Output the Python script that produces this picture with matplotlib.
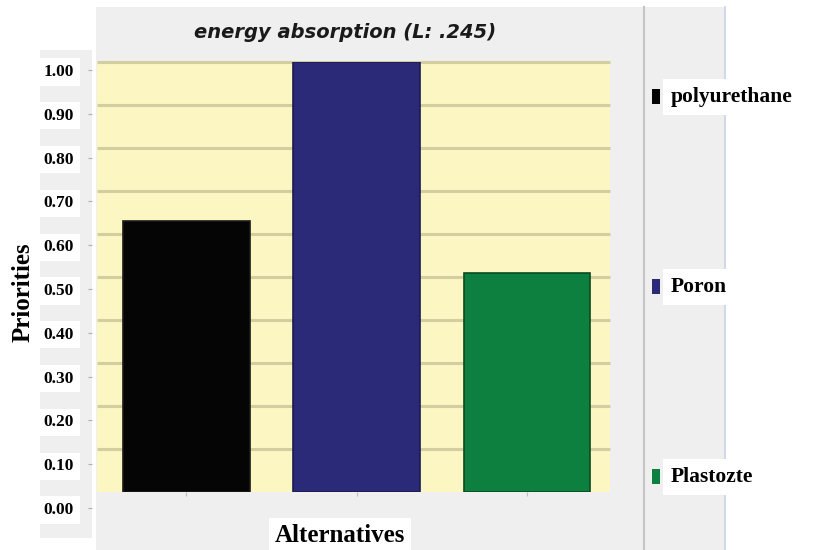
import matplotlib
matplotlib.use('Agg')
import matplotlib.pyplot as plt
from matplotlib.patches import Rectangle

# data
alternatives = ['polyurethane', 'Poron', 'Plastozte']
priorities = [0.63, 1.00, 0.51]
bar_colors = ['#050505', '#2b2a78', '#0d8040']
edge_colors = ['#1a1a1a', '#1c1b55', '#0a4a22']
ytick_vals = [0.0, 0.1, 0.2, 0.3, 0.4, 0.5, 0.6, 0.7, 0.8, 0.9, 1.0]
title = 'energy absorption (L: .245)'

W, H = 816, 550


def fx(px):
    return px / W


def fy(py):
    return 1 - py / H


fig = plt.figure(figsize=(W / 100, H / 100), dpi=100)
fig.patch.set_facecolor('white')

# grey panels of the original screenshot
fig.patches.append(Rectangle((fx(96), 0), fx(643) - fx(96), fy(7), transform=fig.transFigure,
                             facecolor='#efefef', edgecolor='none', zorder=-2))
fig.patches.append(Rectangle((fx(40), fy(538)), fx(92) - fx(40), fy(50) - fy(538), transform=fig.transFigure,
                             facecolor='#efefef', edgecolor='none', zorder=-2))
fig.patches.append(Rectangle((fx(645), 0), fx(725) - fx(645), fy(7), transform=fig.transFigure,
                             facecolor='#efefef', edgecolor='none', zorder=-2))
fig.lines.append(plt.Line2D([fx(644), fx(644)], [0, fy(7)], transform=fig.transFigure,
                            color='#c4c4c4', linewidth=1.5, zorder=-1))
fig.lines.append(plt.Line2D([fx(725), fx(725)], [0, fy(7)], transform=fig.transFigure,
                            color='#c9d3e6', linewidth=1.2, zorder=-1))

# main plot area
ax = fig.add_axes([fx(97), fy(492), fx(610) - fx(97), fy(62) - fy(492)])
ax.set_zorder(2)
ax.set_facecolor('#fbf6c2')
for s in ax.spines.values():
    s.set_visible(False)

x = list(range(len(alternatives)))
ax.hlines(ytick_vals[1:], -0.525, 2.487, colors='#d2ce9f', linewidth=2.2, zorder=1, clip_on=False)
ax.bar(x, priorities, width=0.745, color=bar_colors, edgecolor=edge_colors, linewidth=1.2, zorder=3)
ax.set_xlim(-0.525, 2.487)
ax.set_ylim(0, 1.0)
ax.set_yticks([])
ax.set_xticks(x)
ax.set_xticklabels([])
ax.tick_params(axis='x', length=3, color='#c0c0c0', direction='out')

# y tick labels (offset from the grid in the original)
lab = fig.add_axes([fx(92), fy(508), 0.001, fy(70) - fy(508)])
lab.set_zorder(2)
lab.patch.set_visible(False)
for s in lab.spines.values():
    s.set_visible(False)
lab.set_xticks([])
lab.set_ylim(0, 1)
lab.set_yticks(ytick_vals)
lab.set_yticklabels(['%.2f' % v for v in ytick_vals], fontfamily='Liberation Serif',
                    fontweight='bold', fontsize=12.5)
lab.tick_params(axis='y', length=3, color='#b0b0b0', pad=10)
for t in lab.get_yticklabels():
    t.set_bbox(dict(facecolor='white', edgecolor='none', pad=4))

fig.text(fx(345), fy(33), title, ha='center', va='center', fontsize=14,
         fontstyle='italic', fontweight='bold', color='#1a1a1a')
fig.text(fx(23), fy(292), 'Priorities', rotation=90, ha='center', va='center',
         fontfamily='Liberation Serif', fontweight='bold', fontsize=18)
fig.text(fx(340), fy(535), 'Alternatives', ha='center', va='center',
         fontfamily='Liberation Serif', fontweight='bold', fontsize=18,
         bbox=dict(facecolor='white', edgecolor='none', pad=4))

# legend on the right
leg_y = [97, 287, 477]
for name, c, yy in zip(alternatives, bar_colors, leg_y):
    fig.text(fx(671), fy(yy), name, ha='left', va='center', fontfamily='Liberation Serif',
             fontweight='bold', fontsize=15.5, bbox=dict(facecolor='white', edgecolor='none', pad=6))
    fig.patches.append(Rectangle((fx(652), fy(yy + 7)), fx(8), fy(0) - fy(15), transform=fig.transFigure,
                                 facecolor=c, edgecolor='none', zorder=5))

fig.savefig('out.png', dpi=100)
